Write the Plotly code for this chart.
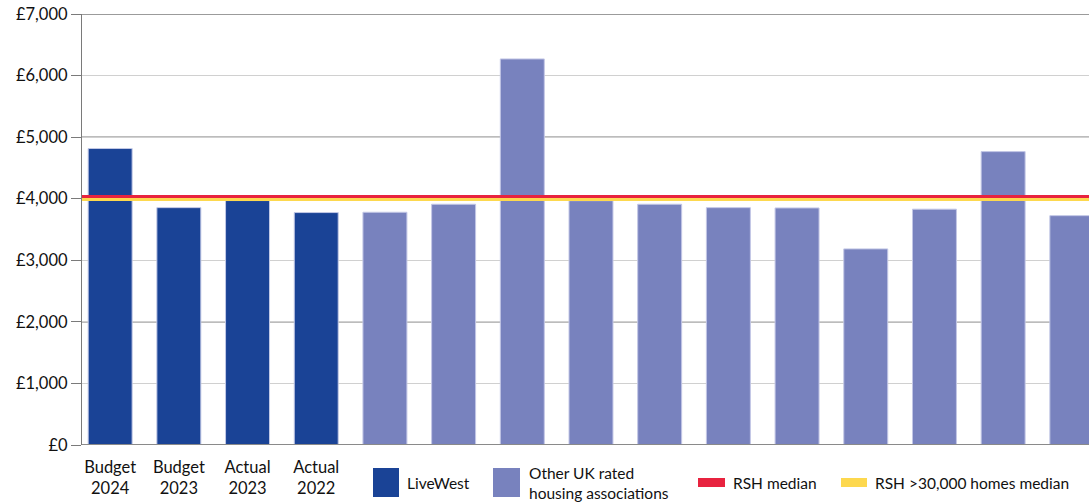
import plotly.graph_objects as go

# ---- data ----
tick_labels = ["Budget<br>2024", "Budget<br>2023", "Actual<br>2023", "Actual<br>2022"]
livewest_values = [4815, 3855, 3970, 3775]
other_values = [3780, 3910, 6270, 3968, 3910, 3855, 3850, 3185, 3830, 4765, 3725]
rsh_median = 4035
rsh_large_median = 3990
y_ticks = [0, 1000, 2000, 3000, 4000, 5000, 6000, 7000]
y_tick_text = ["£0", "£1,000", "£2,000", "£3,000", "£4,000", "£5,000", "£6,000", "£7,000"]
dark_grid = [2000, 5000, 7000]

C_LIVE = "#1a4396"
C_OTHER = "#7882be"
C_RED = "#e8233f"
C_YELLOW = "#fdd84e"
FONT = "Lato"
TXT = "#111111"

n_live = len(livewest_values)
x_live = list(range(n_live))
x_other = list(range(n_live, n_live + len(other_values)))

fig = go.Figure()
fig.add_bar(x=x_live, y=livewest_values, width=0.64, marker_color=C_LIVE,
            marker_line=dict(color="#c3c9e6", width=1), showlegend=False)
fig.add_bar(x=x_other, y=other_values, width=0.64, marker_color=C_OTHER,
            marker_line=dict(color="#c3c7e6", width=1), showlegend=False)

shapes = []
# darker grid lines
for g in dark_grid:
    shapes.append(dict(type="line", xref="paper", yref="y", x0=0, x1=1, y0=g, y1=g,
                       line=dict(color="#7a7a7a", width=1.3), layer="below"))
# reference lines
shapes.append(dict(type="line", xref="paper", yref="y", x0=0, x1=1,
                   y0=rsh_large_median, y1=rsh_large_median,
                   line=dict(color=C_YELLOW, width=3.5), layer="above"))
shapes.append(dict(type="line", xref="paper", yref="y", x0=0, x1=1,
                   y0=rsh_median, y1=rsh_median,
                   line=dict(color=C_RED, width=3), layer="above"))

# custom legend (paper coordinates)
L, W, T, H = 82, 1007, 14, 431
def px(x):
    return (x - L) / W
def py(y):
    return (T + H - y) / H

legend_items = [
    (373, 399, 468, 497, C_LIVE, "LiveWest", 405),
    (493, 520, 468, 497, C_OTHER, "Other UK rated<br>housing associations", 527),
    (698, 725, 478, 487, C_RED, "RSH median", 731),
    (841, 867, 478, 487, C_YELLOW, "RSH >30,000 homes median", 873),
]
annotations = []
for x0, x1, y0, y1, col, label, tx in legend_items:
    shapes.append(dict(type="rect", xref="paper", yref="paper",
                       x0=px(x0), x1=px(x1), y0=py(y0), y1=py(y1),
                       fillcolor=col, line=dict(width=0)))
    annotations.append(dict(xref="paper", yref="paper", x=px(tx), y=py(483),
                            text=label, showarrow=False, xanchor="left", yanchor="middle",
                            align="left", font=dict(family=FONT, size=15.5, color=TXT)))

fig.update_layout(
    width=1089, height=502,
    margin=dict(l=82, r=0, t=14, b=57, autoexpand=False),
    paper_bgcolor="white", plot_bgcolor="white",
    shapes=shapes, annotations=annotations,
    bargap=0.36,
    font=dict(family=FONT, size=15, color=TXT),
    xaxis=dict(range=[-0.41, 14.25], tickvals=x_live, ticktext=tick_labels,
               showgrid=False, zeroline=False, showline=False, ticks="",
               ticklabelstandoff=10, automargin=False,
               tickfont=dict(family=FONT, size=16.5, color=TXT)),
    yaxis=dict(range=[0, 7000], tickvals=y_ticks, ticktext=y_tick_text,
               showgrid=True, gridcolor="#d0d0d0", gridwidth=1,
               zeroline=False, showline=True, linecolor="#7a7a7a", linewidth=1.3,
               ticks="outside", ticklen=10, tickcolor="#7a7a7a", tickwidth=1.3,
               automargin=False,
               tickfont=dict(family=FONT, size=16.5, color=TXT)),
)
# zero baseline
fig.add_shape(type="line", xref="paper", yref="y", x0=0, x1=1, y0=0, y1=0,
              line=dict(color="#8a8a8a", width=2), layer="above")

fig.write_html("out.html")
